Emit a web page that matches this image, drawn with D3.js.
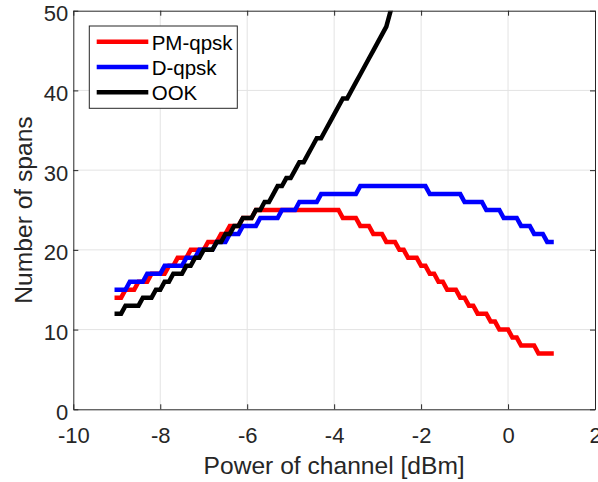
<!DOCTYPE html>
<html>
<head>
<meta charset="utf-8">
<script src="https://cdn.jsdelivr.net/npm/d3@7"></script>
<style>
  html, body { margin: 0; padding: 0; background: #fff; }
  svg { display: block; }
  text { font-family: "Liberation Sans", Arial, Helvetica, sans-serif; }
</style>
</head>
<body>
<svg id="chart" width="598" height="482"></svg>
<script>
// ---- data ----
const powerDbm = [
  -9.0,-8.9,-8.8,-8.7,-8.6,-8.5,-8.4,-8.3,-8.2,-8.1,
  -8.0,-7.9,-7.8,-7.7,-7.6,-7.5,-7.4,-7.3,-7.2,-7.1,
  -7.0,-6.9,-6.8,-6.7,-6.6,-6.5,-6.4,-6.3,-6.2,-6.1,
  -6.0,-5.9,-5.8,-5.7,-5.6,-5.5,-5.4,-5.3,-5.2,-5.1,
  -5.0,-4.9,-4.8,-4.7,-4.6,-4.5,-4.4,-4.3,-4.2,-4.1,
  -4.0,-3.9,-3.8,-3.7,-3.6,-3.5,-3.4,-3.3,-3.2,-3.1,
  -3.0,-2.9,-2.8,-2.7,-2.6,-2.5,-2.4,-2.3,-2.2,-2.1,
  -2.0,-1.9,-1.8,-1.7,-1.6,-1.5,-1.4,-1.3,-1.2,-1.1,
  -1.0,-0.9,-0.8,-0.7,-0.6,-0.5,-0.4,-0.3,-0.2,-0.1,
   0.0, 0.1, 0.2, 0.3, 0.4, 0.5, 0.6, 0.7, 0.8, 0.9,
   1.0
];
const pmQpsk = [
  14,14, 15,15,15, 16,16,16, 17,17,17,17, 18,18, 19,19,19, 20,20,20,20,
  21,21,21, 22,22, 23,23,23, 24,24,24,
  25,25,25,25,25,25,25,25,25,25,25,25,25,25,25,25,25,25,25,25,
  24,24,24,24, 23,23,23, 22,22,22, 21,21,21, 20,20, 19,19,19, 18,18,
  17,17, 16,16, 15,15,15, 14,14, 13,13, 12,12,12, 11,11, 10,10,10,
  9,9, 8,8,8,8, 7,7,7,7
];
const dQpsk = [
  15,15,15, 16,16,16,16, 17,17,17,17, 18,18,18,18,18, 19,19,19,
  20,20,20,20, 21,21,21, 22,22,22, 23,23,23,23, 24,24,24,24,24,
  25,25,25,25, 26,26,26,26,26, 27,27,27,27,27,27,27,27,27,
  28,28,28,28,28,28,28,28,28,28,28,28,28,28,28,28,
  27,27,27,27,27,27,27,27, 26,26,26,26,26, 25,25,25,25,
  24,24,24,24, 23,23,23, 22,22,22, 21,21
];
const ook = [
  12,12, 13,13,13,13, 14,14,14, 15,15, 16,16, 17,17,17, 18,18, 19,19,
  20,20,20, 21,21, 22,22, 23,23, 24,24,24, 25,25, 26,26, 27, 28,28, 29,29,
  30, 31,31, 32, 33, 34,34, 35, 36, 37, 38, 39,39,
  40, 41, 42, 43, 44, 45, 46, 47, 48, 50
];
const seriesNames = ["PM-qpsk", "D-qpsk", "OOK"];
const seriesColors = ["#ff0000", "#0000ff", "#000000"];
const xTicks = [-10, -8, -6, -4, -2, 0, 2];
const yTicks = [0, 10, 20, 30, 40, 50];
const xLabel = "Power of channel [dBm]";
const yLabel = "Number of spans";

// ---- layout ----
const L = 73.3, R = 595, T = 10.7, B = 409.3;
const x = d3.scaleLinear().domain([-10, 2]).range([L, R]);
const y = d3.scaleLinear().domain([0, 50]).range([B, T]);
const axisColor = "#262626";

const svg = d3.select("#chart");
svg.append("rect").attr("width", 598).attr("height", 482).attr("fill", "#fff");

// grid
const grid = svg.append("g").attr("stroke", "#e3e3e3").attr("stroke-width", 1);
grid.selectAll("line.gx").data(xTicks.slice(1, -1)).join("line")
  .attr("x1", d => x(d)).attr("x2", d => x(d)).attr("y1", T).attr("y2", B);
grid.selectAll("line.gy").data(yTicks.slice(1, -1)).join("line")
  .attr("x1", L).attr("x2", R).attr("y1", d => y(d)).attr("y2", d => y(d));

// clip
svg.append("clipPath").attr("id", "plotclip").append("rect")
  .attr("x", L).attr("y", T).attr("width", R - L).attr("height", B - T);

// lines
const series = [
  powerDbm.map((p, i) => [p, pmQpsk[i]]),
  powerDbm.map((p, i) => [p, dQpsk[i]]),
  ook.map((v, i) => [powerDbm[i], v])
];
const line = d3.line().x(d => x(d[0])).y(d => y(d[1]));
const plot = svg.append("g").attr("clip-path", "url(#plotclip)");
series.forEach((s, i) => {
  plot.append("path").attr("d", line(s))
    .attr("fill", "none").attr("stroke", seriesColors[i])
    .attr("stroke-width", 4.5).attr("stroke-linejoin", "miter")
    .attr("stroke-linecap", "square");
});

// axes
const fmt = d => String(d);
const xAxis = d3.axisBottom(x).tickValues(xTicks).tickFormat(fmt).tickSizeInner(-5).tickSizeOuter(0).tickPadding(18);
const yAxis = d3.axisLeft(y).tickValues(yTicks).tickFormat(fmt).tickSizeInner(-5).tickSizeOuter(0).tickPadding(5);
const xTop = d3.axisTop(x).tickValues(xTicks).tickFormat("").tickSizeInner(-5).tickSizeOuter(0);
const yRight = d3.axisRight(y).tickValues(yTicks).tickFormat("").tickSizeInner(-5).tickSizeOuter(0);

function styleAxis(g) {
  g.select(".domain").attr("stroke", axisColor).attr("stroke-width", 1);
  g.selectAll(".tick line").attr("stroke", axisColor).attr("stroke-width", 1);
  g.selectAll(".tick text").attr("fill", axisColor)
    .style("font-family", "'Liberation Sans', Arial, sans-serif").style("font-size", "22px");
}
const gx = svg.append("g").attr("transform", `translate(0,${B})`).call(xAxis).call(styleAxis);
const gy = svg.append("g").attr("transform", `translate(${L},0)`).call(yAxis).call(styleAxis);
gy.selectAll(".tick text").attr("dy", "0.45em");
svg.append("g").attr("transform", `translate(0,${T})`).call(xTop).call(styleAxis);
svg.append("g").attr("transform", `translate(${R},0)`).call(yRight).call(styleAxis);

// axis labels
svg.append("text").attr("x", (L + R) / 2).attr("y", 473.5)
  .attr("text-anchor", "middle").attr("fill", axisColor)
  .style("font-size", "24.6px").text(xLabel);
svg.append("text").attr("transform", `translate(31.5,${(T + B) / 2}) rotate(-90)`)
  .attr("text-anchor", "middle").attr("fill", axisColor)
  .style("font-size", "24.6px").text(yLabel);

// legend
const lg = svg.append("g");
lg.append("rect").attr("x", 89.3).attr("y", 26).attr("width", 148).attr("height", 82.3)
  .attr("fill", "#fff").attr("stroke", axisColor).attr("stroke-width", 1);
const rowY = [41.7, 66.9, 92.2];
seriesNames.forEach((name, i) => {
  lg.append("line").attr("x1", 96.7).attr("x2", 148.3).attr("y1", rowY[i]).attr("y2", rowY[i])
    .attr("stroke", seriesColors[i]).attr("stroke-width", 4.5);
  lg.append("text").attr("x", 151.7).attr("y", rowY[i] + 7.8)
    .attr("fill", "#000").style("font-size", "20.5px").text(name);
});
</script>
</body>
</html>
